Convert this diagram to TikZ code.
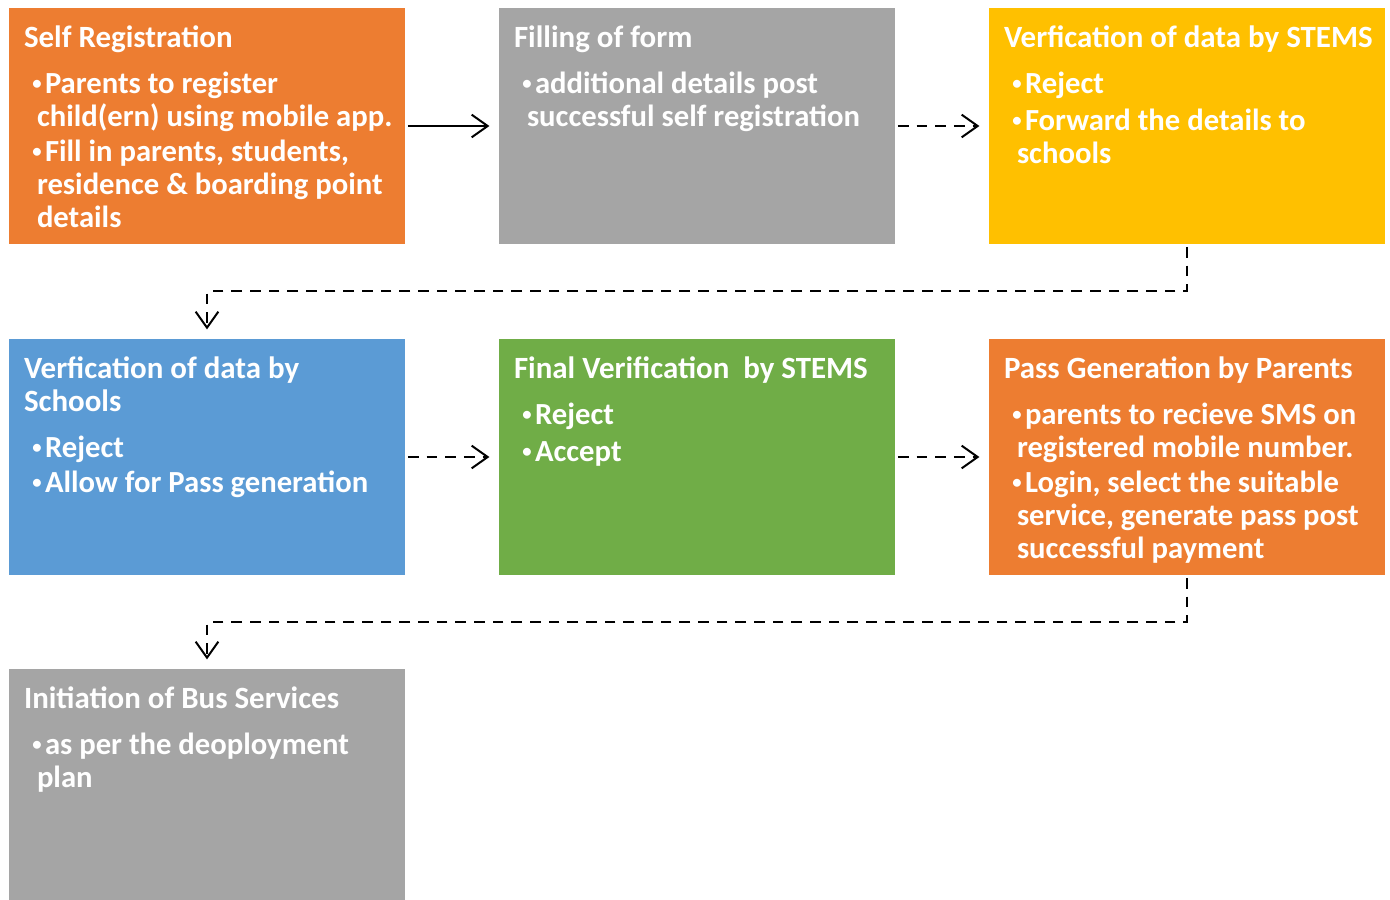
\documentclass[tikz,border=0pt]{standalone}
\usepackage{fontspec}
\setmainfont{Carlito}
\usetikzlibrary{arrows.meta,positioning}

\definecolor{regorange}{HTML}{ED7D31}
\definecolor{formgray}{HTML}{A5A5A5}
\definecolor{stemsyellow}{HTML}{FFC000}
\definecolor{schoolblue}{HTML}{5B9BD5}
\definecolor{finalgreen}{HTML}{70AD47}

\newcommand{\itm}{\hspace*{6pt}\llap{\raisebox{3pt}{\fontsize{14}{14}\selectfont\textbullet}\hspace{2.5pt}}}

\tikzset{
    box/.style={rectangle, inner sep=0pt, minimum width=297pt, minimum height=177pt},
    head/.style={anchor=north west, inner sep=0pt, align=left, text=white,
        font=\bfseries\fontsize{23.2}{24.75}\selectfont},
    body/.style={inner sep=0pt, align=left, text=white,
        font=\bfseries\fontsize{23}{24.75}\selectfont},
    flow/.style={-{Straight Barb[length=12pt,width=17pt]}, line width=1.5pt,
        shorten <=2pt, shorten >=7pt},
    dflow/.style={flow, dash pattern=on 8pt off 6pt}
}

\begin{document}
\begin{tikzpicture}[x=0.75pt, y=-0.75pt]

    \useasboundingbox (0,0) rectangle (1390,900);

    % Boxes
    \node[box, fill=regorange] (reg) at (207,126) {};
    \node[box, fill=formgray] (form) at (697,126) {};
    \node[box, fill=stemsyellow] (stems) at (1187,126) {};
    \node[box, fill=schoolblue] (school) at (207,457) {};
    \node[box, fill=finalgreen] (final) at (697,457) {};
    \node[box, fill=regorange] (pass) at (1187,457) {};
    \node[box, fill=formgray] (bus) at (207,787) {};

    % Titles
    \node[head] (regT) at ([shift={(15,16.5)}]reg.north west) {\strut Self Registration};
    \node[head] (formT) at ([shift={(15,16.5)}]form.north west) {\strut Filling of form};
    \node[head] (stemsT) at ([shift={(15,16.5)}]stems.north west) {\strut Verfication of data by STEMS};
    \node[head] (schoolT) at ([shift={(15,16.5)}]school.north west) {\strut Verfication of data by\\\strut Schools};
    \node[head] (finalT) at ([shift={(15,16.5)}]final.north west) {\strut Final Verification\ \ by STEMS};
    \node[head] (passT) at ([shift={(15,16.5)}]pass.north west) {\strut Pass Generation by Parents};
    \node[head] (busT) at ([shift={(15,16.5)}]bus.north west) {\strut Initiation of Bus Services};

    % Bullet text
    \node[body, below right=9pt and 9.75pt of regT.south west] (regB)
        {\itm\strut Parents to register\\child(ern) using mobile app.\\[2pt]
         \itm Fill in parents, students,\\residence \& boarding point\\details\strut};
    \node[body, below right=9pt and 9.75pt of formT.south west] (formB)
        {\itm\strut additional details post\\successful self registration\strut};
    \node[body, below right=9pt and 9.75pt of stemsT.south west] (stemsB)
        {\itm\strut Reject\\[3pt]
         \itm Forward the details to\\schools\strut};
    \node[body, below right=9pt and 9.75pt of schoolT.south west] (schoolB)
        {\itm\strut Reject\\[2pt]
         \itm Allow for Pass generation\strut};
    \node[body, below right=9pt and 9.75pt of finalT.south west] (finalB)
        {\itm\strut Reject\\[3pt]
         \itm Accept\strut};
    \node[body, below right=9pt and 9.75pt of passT.south west] (passB)
        {\itm\strut parents to recieve SMS  on\\registered mobile number.\\[2pt]
         \itm Login, select the suitable\\service, generate pass post\\successful payment\strut};
    \node[body, below right=9pt and 9.75pt of busT.south west] (busB)
        {\itm\strut as per the deoployment\\plan\strut};

    % Connectors
    \draw[flow] (reg) -- (form);
    \draw[dflow] (form) -- (stems);
    \draw[dflow] (stems.south) -- ++(0,47) -| (school.north);
    \draw[dflow] (school) -- (final);
    \draw[dflow] (final) -- (pass);
    \draw[dflow] (pass.south) -- ++(0,47) -| (bus.north);
\end{tikzpicture}
\end{document}
